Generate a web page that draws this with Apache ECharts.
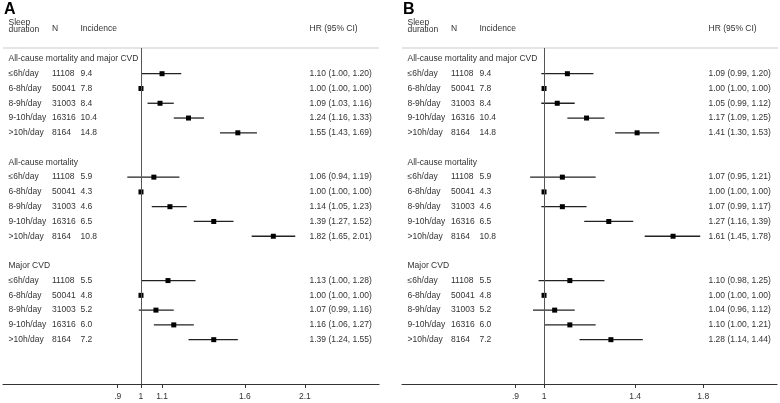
<!DOCTYPE html>
<html><head><meta charset="utf-8">
<script src="https://cdn.jsdelivr.net/npm/echarts@6/dist/echarts.min.js"></script>
<style>html,body{margin:0;padding:0;background:#fff}#c{width:780px;height:403px}</style>
</head><body><div id="c"></div>
<script>
// ---- data ----
const outcomes = ['All-cause mortality and major CVD', 'All-cause mortality', 'Major CVD'];
const durations = ['≤6h/day', '6-8h/day', '8-9h/day', '9-10h/day', '>10h/day'];
const nValues = [11108, 50041, 31003, 16316, 8164];
const incCombined = ['9.4', '7.8', '8.4', '10.4', '14.8'];
const incMortality = ['5.9', '4.3', '4.6', '6.5', '10.8'];
const incCVD = ['5.5', '4.8', '5.2', '6.0', '7.2'];

// Panel A: HR, lower, upper
const hrA_combined = [1.10, 1.00, 1.09, 1.24, 1.55];
const loA_combined = [1.00, 1.00, 1.03, 1.16, 1.43];
const hiA_combined = [1.20, 1.00, 1.16, 1.33, 1.69];
const hrA_mortality = [1.06, 1.00, 1.14, 1.39, 1.82];
const loA_mortality = [0.94, 1.00, 1.05, 1.27, 1.65];
const hiA_mortality = [1.19, 1.00, 1.23, 1.52, 2.01];
const hrA_cvd = [1.13, 1.00, 1.07, 1.16, 1.39];
const loA_cvd = [1.00, 1.00, 0.99, 1.06, 1.24];
const hiA_cvd = [1.28, 1.00, 1.16, 1.27, 1.55];

// Panel B
const hrB_combined = [1.09, 1.00, 1.05, 1.17, 1.41];
const loB_combined = [0.99, 1.00, 0.99, 1.09, 1.30];
const hiB_combined = [1.20, 1.00, 1.12, 1.25, 1.53];
const hrB_mortality = [1.07, 1.00, 1.07, 1.27, 1.61];
const loB_mortality = [0.95, 1.00, 0.99, 1.16, 1.45];
const hiB_mortality = [1.21, 1.00, 1.17, 1.39, 1.78];
const hrB_cvd = [1.10, 1.00, 1.04, 1.10, 1.28];
const loB_cvd = [0.98, 1.00, 0.96, 1.00, 1.14];
const hiB_cvd = [1.25, 1.00, 1.12, 1.21, 1.44];

const ticksA = [0.9, 1, 1.1, 1.6, 2.1];
const ticksB = [0.9, 1, 1.4, 1.8];

// ---- build ----
const FONT = 'Liberation Sans, Arial, sans-serif';
const FS = 8.5;
const TXT = '#333';
const incs = [incCombined, incMortality, incCVD];

function buildPanel(hr, lo, hi) {
  const marks = [], texts = [];
  for (let g = 0; g < 3; g++) {
    const base = g * 7;
    texts.push({row: base, label: outcomes[g], n: '', inc: '', hrt: ''});
    for (let i = 0; i < 5; i++) {
      const r = base + 1 + i;
      marks.push([hr[g][i], lo[g][i], hi[g][i], r]);
      texts.push({row: r, label: durations[i], n: String(nValues[i]), inc: incs[g][i],
        hrt: hr[g][i].toFixed(2) + ' (' + lo[g][i].toFixed(2) + ', ' + hi[g][i].toFixed(2) + ')'});
    }
  }
  return {marks, texts};
}
const panelA = buildPanel([hrA_combined, hrA_mortality, hrA_cvd], [loA_combined, loA_mortality, loA_cvd], [hiA_combined, hiA_mortality, hiA_cvd]);
const panelB = buildPanel([hrB_combined, hrB_mortality, hrB_cvd], [loB_combined, loB_mortality, loB_cvd], [hiB_combined, hiB_mortality, hiB_cvd]);

const grids = [
  {left: 3, width: 376, top: 48, bottom: 19},
  {left: 402, width: 375, top: 48, bottom: 19}
];
function xAxis(gi, min, max, ticks) {
  return {
    type: 'log', logBase: Math.E, gridIndex: gi, min: min, max: max, position: 'bottom',
    axisLine: {show: true, onZero: false, lineStyle: {color: '#333', width: 1.2}},
    axisTick: {show: true, length: 4, lineStyle: {color: '#333', width: 1}, customValues: ticks},
    axisLabel: {show: true, customValues: ticks, color: TXT, fontSize: FS, fontFamily: FONT, margin: 8,
      formatter: v => { const r = Math.round(v * 10) / 10; return r === 0.9 ? '.9' : String(r); }},
    splitLine: {show: false}
  };
}
function yAxis(gi) {
  return {type: 'value', gridIndex: gi, min: -0.74, max: 22, inverse: true, show: false};
}

function markSeries(gi, panel) {
  return {
    type: 'custom', xAxisIndex: gi, yAxisIndex: gi,
    data: panel.marks,
    encode: {x: [0, 1, 2], y: 3},
    renderItem: function (params, api) {
      const row = api.value(3);
      const p = api.coord([api.value(0), row]);
      const pl = api.coord([api.value(1), row]);
      const ph = api.coord([api.value(2), row]);
      return {type: 'group', children: [
        {type: 'line', shape: {x1: pl[0], y1: pl[1], x2: ph[0], y2: ph[1]}, style: {stroke: '#222', lineWidth: 1.3}},
        {type: 'rect', shape: {x: p[0] - 2.5, y: p[1] - 2.5, width: 5, height: 5}, style: {fill: '#000'}}
      ]};
    },
    markLine: {
      silent: true, symbol: 'none', label: {show: false},
      lineStyle: {color: '#555', width: 1, type: 'solid'},
      data: [{xAxis: 1}]
    },
    z: 3
  };
}
function textSeries(gi, panel) {
  return {
    type: 'custom', xAxisIndex: gi, yAxisIndex: gi,
    data: panel.texts.map(t => [1, t.row]),
    encode: {x: 0, y: 1},
    renderItem: function (params, api) {
      const t = panel.texts[params.dataIndex];
      const y = api.coord([1, api.value(1)])[1];
      const x0 = params.coordSys.x;
      const st = (txt, dx) => ({type: 'text', style: {text: txt, x: x0 + dx, y: y, fill: TXT, fontSize: FS, fontFamily: FONT, verticalAlign: 'middle', align: 'left'}});
      const ch = [st(t.label, 5.5)];
      if (t.n) { ch.push(st(t.n, 49)); ch.push(st(t.inc, 77.5)); ch.push(st(t.hrt, 306.5)); }
      return {type: 'group', children: ch};
    },
    z: 4
  };
}

function headers(x0, letter) {
  const s = (txt, dx, y) => ({type: 'text', left: x0 + dx, top: y, style: {text: txt, fill: TXT, font: FS + 'px ' + FONT}});
  return [
    {type: 'text', left: x0 + 1, top: 2, style: {text: letter, fill: '#000', font: 'bold 16px ' + FONT}},
    {type: 'text', left: x0 + 5.5, top: 18, style: {text: 'Sleep\nduration', fill: TXT, font: FS + 'px ' + FONT, lineHeight: 7}},
    s('N', 49, 24.5), s('Incidence', 77.5, 24.5), s('HR (95% CI)', 306.5, 24.5),
    {type: 'line', shape: {x1: x0, y1: 48, x2: x0 + 376, y2: 48}, style: {stroke: '#dcdcdc', lineWidth: 1.5}}
  ];
}

const chart = echarts.init(document.getElementById('c'), null, {renderer: 'canvas'});
chart.setOption({
  animation: false,
  backgroundColor: '#fff',
  grid: grids,
  xAxis: [xAxis(0, 0.5356, 2.936, ticksA), xAxis(1, 0.592, 2.363, ticksB)],
  yAxis: [yAxis(0), yAxis(1)],
  series: [markSeries(0, panelA), textSeries(0, panelA), markSeries(1, panelB), textSeries(1, panelB)],
  graphic: headers(3, 'A').concat(headers(402, 'B'))
});
</script></body></html>
